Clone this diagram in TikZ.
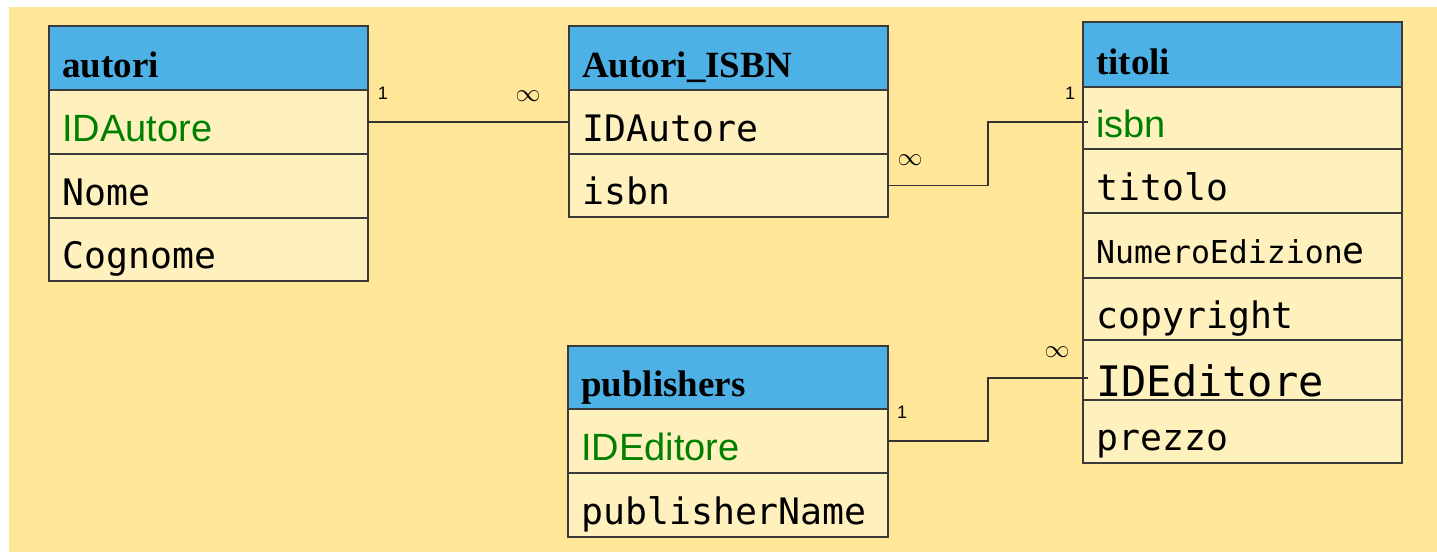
\documentclass[tikz,border=0pt]{standalone}
\usepackage{fontspec}
\setmainfont{Liberation Serif}
\setsansfont{Liberation Sans}
\setmonofont{DejaVu Sans Mono}
\usetikzlibrary{calc}

\definecolor{bgyellow}{HTML}{FFE699}
\definecolor{hdrblue}{HTML}{4DB1E5}
\definecolor{rowcream}{HTML}{FFF1BD}
\definecolor{keygreen}{HTML}{008000}
\definecolor{edgegray}{HTML}{3A3A3A}

\tikzset{
  cellbox/.style={draw=edgegray, line width=1.3pt, inner sep=0pt, outer sep=0pt},
  hdrcell/.style={cellbox, fill=hdrblue},
  fieldcell/.style={cellbox, fill=rowcream},
  hdrtext/.style={font={\bfseries\fontsize{37}{40}\selectfont}, inner sep=0pt},
  monotext/.style={font={\ttfamily\fontsize{36.5}{40}\selectfont}, inner sep=0pt},
  keytext/.style={font={\sffamily\fontsize{38}{40}\selectfont}, text=keygreen, inner sep=0pt},
  card/.style={font={\sffamily\fontsize{18}{20}\selectfont}, inner sep=0pt},
  manycard/.style={font={\fontsize{23}{25}\selectfont}, inner sep=0pt},
  conn/.style={draw=black!80, line width=1.2pt},
}

% #1 name, #2 left, #3 top, #4 right, #5 bottom, #6 cell style, #7 text style, #8 text
\newcommand{\tblcell}[8]{%
  \pgfmathsetmacro\cellw{#4-#2}%
  \pgfmathsetmacro\cellh{#5-#3}%
  \node[#6, minimum width=\cellw pt, minimum height=\cellh pt]
    (#1) at ({(#2+#4)/2},{(#3+#5)/2}) {};
  \node[anchor=base west, #7] (#1-text) at ({#2+13},{#5-13}) {#8};%
}

\begin{document}
\begin{tikzpicture}[x=1pt, y=-1pt]
  \useasboundingbox (0,0) rectangle (1437,552);
  \fill[white] (0,0) rectangle (1437,552);
  \fill[bgyellow] (9,7) rectangle (1437,552);

  % table autori
  \tblcell{autori-h}{49}{26}{368}{90}{hdrcell}{hdrtext}{autori}
  \tblcell{autori-r1}{49}{90}{368}{154}{fieldcell}{keytext}{IDAutore}
  \tblcell{autori-r2}{49}{154}{368}{218}{fieldcell}{monotext}{Nome}
  \tblcell{autori-r3}{49}{218}{368}{281}{fieldcell}{monotext}{Cognome}

  % table Autori_ISBN
  \tblcell{ai-h}{569}{26}{888}{90}{hdrcell}{hdrtext}{Autori\_ISBN}
  \tblcell{ai-r1}{569}{90}{888}{154}{fieldcell}{monotext}{IDAutore}
  \tblcell{ai-r2}{569}{154}{888}{217}{fieldcell}{monotext}{isbn}

  % table titoli
  \tblcell{titoli-h}{1083}{22}{1402}{87}{hdrcell}{hdrtext}{titoli}
  \tblcell{titoli-r1}{1083}{87}{1402}{149}{fieldcell}{keytext, yshift=-1pt}{isbn}
  \tblcell{titoli-r2}{1083}{149}{1402}{213}{fieldcell}{monotext}{titolo}
  \tblcell{titoli-r3}{1083}{213}{1402}{278}{fieldcell}{monotext, yshift=2pt}%
    {{\fontsize{31.5}{34}\selectfont NumeroEdizion}e}
  \tblcell{titoli-r4}{1083}{278}{1402}{340}{fieldcell}{monotext, yshift=-1pt}{copyright}
  \tblcell{titoli-r5}{1083}{340}{1402}{400}{fieldcell}%
    {monotext, yshift=-9pt, font={\ttfamily\fontsize{42}{44}\selectfont}}{IDEditore}
  \tblcell{titoli-r6}{1083}{400}{1402}{463}{fieldcell}{monotext}{prezzo}

  % table publishers
  \tblcell{pub-h}{568}{346}{888}{409}{hdrcell}{hdrtext}{publishers}
  \tblcell{pub-r1}{568}{409}{888}{473}{fieldcell}{keytext}{IDEditore}
  \tblcell{pub-r2}{568}{473}{888}{537}{fieldcell}{monotext}{publisherName}

  % relationship ends inside the titoli table
  \coordinate (isbn-end) at ($(titoli-r1.west)+(5,4)$);
  \coordinate (editore-end) at ($(titoli-r5.west)+(5,8)$);

  % relationships
  \draw[conn] (autori-r1.east) -- (ai-r1.west);
  \draw[conn] (ai-r2.east) -| ($(ai-r2.east)!.5!(isbn-end)$) |- (isbn-end);
  \draw[conn] (pub-r1.east) -| ($(pub-r1.east)!.5!(editore-end)$) |- (editore-end);

  % cardinalities
  \node[card] (c-autori) at (383,93) {1};
  \node[manycard] (c-ai-autore) at (528,96) {$\infty$};
  \node[manycard] (c-ai-isbn) at (910,160) {$\infty$};
  \node[card] (c-titoli-isbn) at (1070,93) {1};
  \node[card] (c-pub) at (902,412) {1};
  \node[manycard] (c-titoli-ed) at (1057,352) {$\infty$};
\end{tikzpicture}
\end{document}
